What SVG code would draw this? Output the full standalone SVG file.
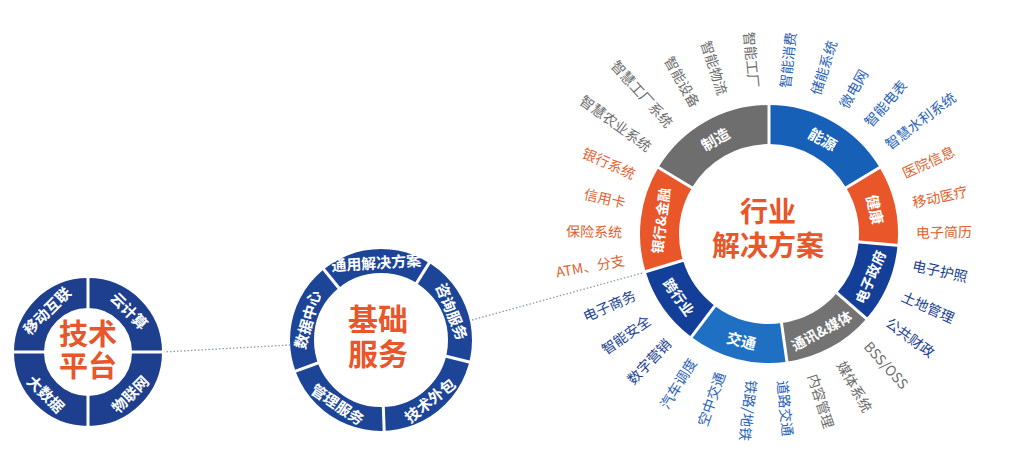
<svg xmlns="http://www.w3.org/2000/svg" width="1023" height="472" viewBox="0 0 1023 472">
<style>
text{font-family:"Noto Sans CJK SC","Liberation Sans",sans-serif;}
.seg{fill:#fff;font-weight:bold;text-anchor:middle;dominant-baseline:central;}
.s15{font-size:15px;}
.s14{font-size:14px;}
.ctr{fill:#e8562a;font-weight:bold;text-anchor:middle;font-family:"Liberation Sans","Noto Sans CJK SC",sans-serif;}
.lab{font-size:14px;dominant-baseline:central;}
.lft{text-anchor:end;}
.sep{stroke:#fff;stroke-width:3;}
.gray{fill:#6e6e6e;}
.blue{fill:#2a63b3;}
.navy{fill:#1d3f8f;}
.org{fill:#e0622f;}
.dot{fill:none;stroke:#8797b3;stroke-width:1.3;stroke-dasharray:1.5 2;}
</style>

<g id="connectors">
<line class="dot" x1="163" y1="352" x2="290" y2="345"/>
<line class="dot" x1="472" y1="320" x2="646" y2="272"/>
</g>

<g id="tech-platform">
<circle cx="88" cy="352" r="59" fill="none" stroke="#1e3f8e" stroke-width="30"/>
<g transform="translate(88 352)">
<line class="sep" x1="42" y1="0" x2="76" y2="0"/>
<line class="sep" x1="-42" y1="0" x2="-76" y2="0"/>
<line class="sep" x1="0" y1="42" x2="0" y2="76"/>
<line class="sep" x1="0" y1="-42" x2="0" y2="-76"/>
</g>
<text class="seg s15" x="46.3" y="310.3" transform="rotate(-45 46.3 310.3)">移动互联</text>
<text class="seg s15" x="129.7" y="310.3" transform="rotate(45 129.7 310.3)">云计算</text>
<text class="seg s15" x="129.7" y="393.7" transform="rotate(-45 129.7 393.7)">物联网</text>
<text class="seg s15" x="46.3" y="393.7" transform="rotate(45 46.3 393.7)">大数据</text>
<text class="ctr" font-size="29"><tspan x="88" y="345">技术</tspan><tspan x="88" y="377">平台</tspan></text>
</g>

<g id="basic-services">
<circle cx="381" cy="340" r="79" fill="none" stroke="#1d4597" stroke-width="24"/>
<g transform="translate(381 340)">
<line class="sep" x1="65" y1="0" x2="93" y2="0" transform="rotate(-129)"/>
<line class="sep" x1="65" y1="0" x2="93" y2="0" transform="rotate(-58)"/>
<line class="sep" x1="65" y1="0" x2="93" y2="0" transform="rotate(14)"/>
<line class="sep" x1="65" y1="0" x2="93" y2="0" transform="rotate(88)"/>
<line class="sep" x1="65" y1="0" x2="93" y2="0" transform="rotate(160)"/>
</g>
<text class="seg s15" x="376.2" y="262" transform="rotate(-3.5 376.2 262)">通用解决方案</text>
<text class="seg s15" x="452.4" y="311.2" transform="rotate(68 452.4 311.2)">咨询服务</text>
<text class="seg s15" x="429.5" y="399.8" transform="rotate(-39 429.5 399.8)">技术外包</text>
<text class="seg s15" x="337.9" y="403.8" transform="rotate(34 337.9 403.8)">管理服务</text>
<text class="seg s15" x="306.8" y="319.4" transform="rotate(-74.5 306.8 319.4)">数据中心</text>
<text class="ctr" font-size="30"><tspan x="378" y="330">基础</tspan><tspan x="378" y="365">服务</tspan></text>
</g>

<g id="industry-solutions">
<g fill="none" stroke-width="39">
<circle cx="769" cy="234" r="109.5" pathLength="360" stroke="#1660b8" stroke-dasharray="59 301" transform="rotate(-90 769 234)"/>
<circle cx="769" cy="234" r="109.5" pathLength="360" stroke="#e8562a" stroke-dasharray="36 324" transform="rotate(-31 769 234)"/>
<circle cx="769" cy="234" r="109.5" pathLength="360" stroke="#143f99" stroke-dasharray="36 324" transform="rotate(5 769 234)"/>
<circle cx="769" cy="234" r="109.5" pathLength="360" stroke="#737373" stroke-dasharray="41 319" transform="rotate(41 769 234)"/>
<circle cx="769" cy="234" r="109.5" pathLength="360" stroke="#1f70c2" stroke-dasharray="45 315" transform="rotate(82 769 234)"/>
<circle cx="769" cy="234" r="109.5" pathLength="360" stroke="#143f99" stroke-dasharray="36 324" transform="rotate(127 769 234)"/>
<circle cx="769" cy="234" r="109.5" pathLength="360" stroke="#e8562a" stroke-dasharray="48 312" transform="rotate(163 769 234)"/>
<circle cx="769" cy="234" r="109.5" pathLength="360" stroke="#6e6e6e" stroke-dasharray="59 301" transform="rotate(211 769 234)"/>
</g>
<g transform="translate(769 234)">
<line class="sep" x1="88" y1="0" x2="131" y2="0" transform="rotate(-90)"/>
<line class="sep" x1="88" y1="0" x2="131" y2="0" transform="rotate(-31)"/>
<line class="sep" x1="88" y1="0" x2="131" y2="0" transform="rotate(5)"/>
<line class="sep" x1="88" y1="0" x2="131" y2="0" transform="rotate(41)"/>
<line class="sep" x1="88" y1="0" x2="131" y2="0" transform="rotate(82)"/>
<line class="sep" x1="88" y1="0" x2="131" y2="0" transform="rotate(127)"/>
<line class="sep" x1="88" y1="0" x2="131" y2="0" transform="rotate(163)"/>
<line class="sep" x1="88" y1="0" x2="131" y2="0" transform="rotate(211)"/>
</g>
<text class="seg s15" x="822.9" y="138.7" transform="rotate(29.5 822.9 138.7)">能源</text>
<text class="seg s15" x="875.7" y="209.4" transform="rotate(77 875.7 209.4)">健康</text>
<text class="seg s14" x="869.8" y="276.8" transform="rotate(-67 869.8 276.8)">电子政府</text>
<text class="seg s14" x="821.3" y="330.2" transform="rotate(-28.5 821.3 330.2)">通讯&amp;媒体</text>
<text class="seg s15" x="741.6" y="340" transform="rotate(14.5 741.6 340)">交通</text>
<text class="seg s14" x="679.3" y="296.8" transform="rotate(55 679.3 296.8)">跨行业</text>
<text class="seg s14" x="660.3" y="220.7" transform="rotate(-83 660.3 220.7)">银行&amp;金融</text>
<text class="seg s15" x="715.1" y="138.7" transform="rotate(-29.5 715.1 138.7)">制造</text>
<text class="ctr" font-size="28"><tspan x="768" y="222">行业</tspan><tspan x="768" y="256">解决方案</tspan></text>
</g>

<g id="labels-energy">
<text class="lab blue" x="916" y="234" transform="rotate(-84 769 234)">智能消费</text>
<text class="lab blue" x="916" y="234" transform="rotate(-72 769 234)">储能系统</text>
<text class="lab blue" x="916" y="234" transform="rotate(-60 769 234)">微电网</text>
<text class="lab blue" x="916" y="234" transform="rotate(-48.5 769 234)">智能电表</text>
<text class="lab blue" x="916" y="234" transform="rotate(-37 769 234)">智慧水利系统</text>
</g>
<g id="labels-health">
<text class="lab org" x="916" y="234" transform="rotate(-24.5 769 234)">医院信息</text>
<text class="lab org" x="916" y="234" transform="rotate(-12.5 769 234)">移动医疗</text>
<text class="lab org" x="916" y="234" transform="rotate(-0.8 769 234)">电子简历</text>
</g>
<g id="labels-egov">
<text class="lab navy" x="916" y="234" transform="rotate(12 769 234)">电子护照</text>
<text class="lab navy" x="916" y="234" transform="rotate(24.5 769 234)">土地管理</text>
<text class="lab navy" x="916" y="234" transform="rotate(36 769 234)">公共财政</text>
</g>
<g id="labels-media">
<text class="lab gray" x="916" y="234" transform="rotate(48 769 234)">BSS/OSS</text>
<text class="lab gray" x="916" y="234" transform="rotate(60.5 769 234)">媒体系统</text>
<text class="lab gray" x="916" y="234" transform="rotate(72.5 769 234)">内容管理</text>
</g>
<g id="labels-traffic">
<text class="lab blue" x="916" y="234" transform="rotate(84.5 769 234)">道路交通</text>
<text class="lab blue" x="916" y="234" transform="rotate(96.5 769 234)">铁路/地铁</text>
<text class="lab blue lft" x="622" y="234" transform="rotate(-70.5 769 234)">空中交通</text>
<text class="lab blue lft" x="622" y="234" transform="rotate(-58.5 769 234)">汽车调度</text>
</g>
<g id="labels-cross">
<text class="lab navy lft" x="622" y="234" transform="rotate(-46.5 769 234)">数字营销</text>
<text class="lab navy lft" x="622" y="234" transform="rotate(-35 769 234)">智能安全</text>
<text class="lab navy lft" x="622" y="234" transform="rotate(-24 769 234)">电子商务</text>
</g>
<g id="labels-bank">
<text class="lab org lft" x="622" y="234" transform="rotate(-10 769 234)">ATM、分支</text>
<text class="lab org lft" x="622" y="234" transform="rotate(1 769 234)">保险系统</text>
<text class="lab org lft" x="622" y="234" transform="rotate(12.5 769 234)">信用卡</text>
<text class="lab org lft" x="622" y="234" transform="rotate(24 769 234)">银行系统</text>
</g>
<g id="labels-manufacturing">
<text class="lab gray lft" x="622" y="234" transform="rotate(36 769 234)">智慧农业系统</text>
<text class="lab gray lft" x="622" y="234" transform="rotate(48 769 234)">智慧工厂系统</text>
<text class="lab gray lft" x="622" y="234" transform="rotate(60.5 769 234)">智能设备</text>
<text class="lab gray lft" x="622" y="234" transform="rotate(72 769 234)">智能物流</text>
<text class="lab gray lft" x="622" y="234" transform="rotate(84.5 769 234)">智能工厂</text>
</g>
</svg>
